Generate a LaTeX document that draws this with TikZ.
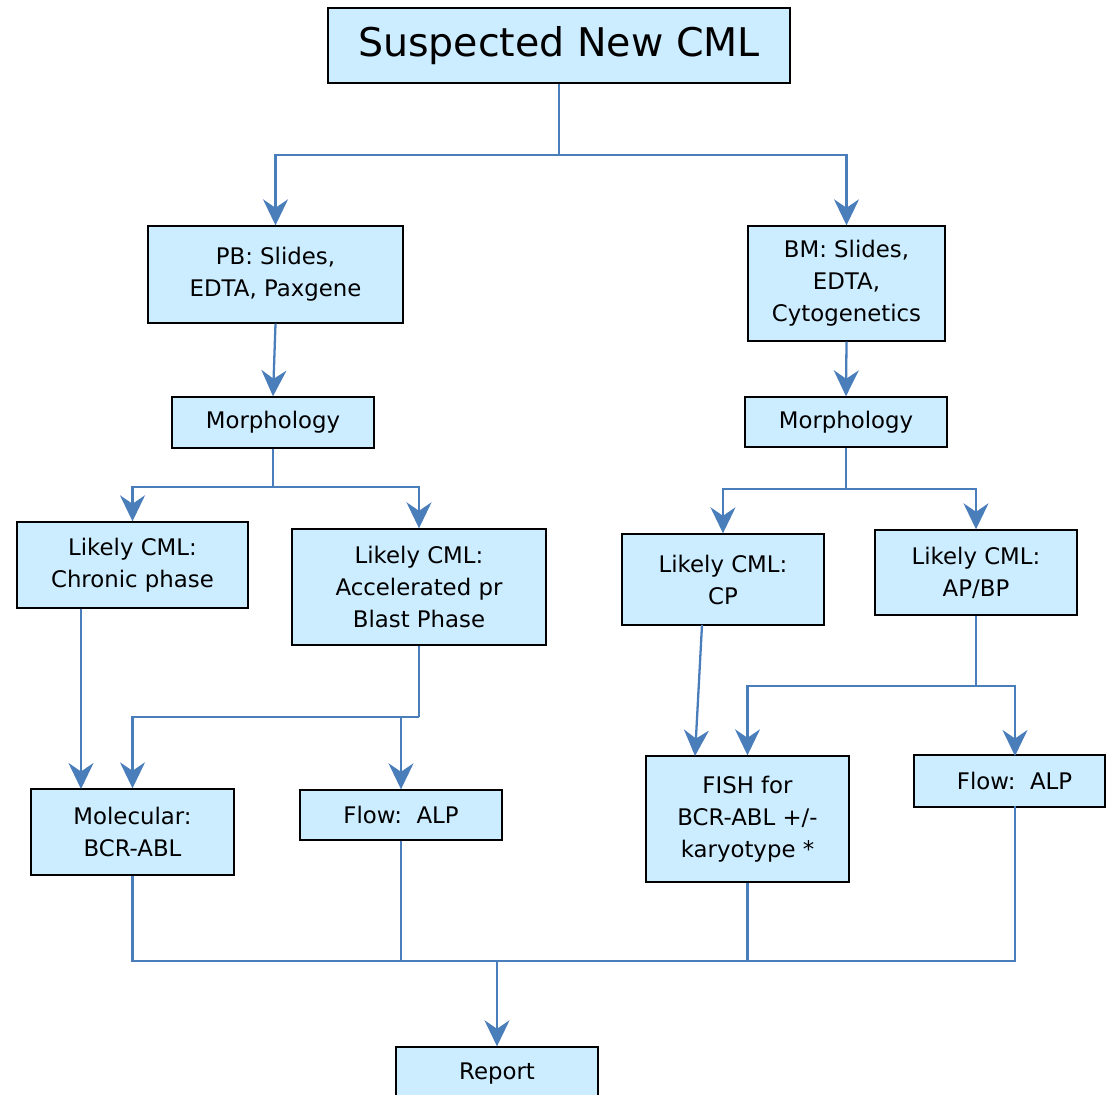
\documentclass[tikz,border=0pt]{standalone}
\usepackage{fontspec}
\setmainfont{DejaVu Sans}
\usetikzlibrary{arrows.meta,positioning,calc}
\definecolor{cmlfill}{RGB}{204,236,255}
\definecolor{cmlblue}{RGB}{74,126,187}

\begin{document}
\begin{tikzpicture}[x=0.02cm, y=-0.02cm,
    box/.style={draw=black, line width=0.8pt, fill=cmlfill, align=center, inner sep=0pt,
        font=\fontsize{13}{18.2}\selectfont},
    link/.style={draw=cmlblue, line width=1.3pt},
    arr/.style={link, -{Stealth[length=0.52cm, width=0.5cm, inset=0.17cm]}}]
    \clip (0,0) rectangle (1106,1095);

    % Top
    \node[box, minimum width=9.24cm, minimum height=1.5cm, font=\fontsize{22.5}{27}\selectfont] (title) at (559,45.5) {Suspected New CML};

    % Samples
    \node[box, minimum width=5.1cm, minimum height=1.94cm] (pb) at (275.5,274.5) {PB: Slides,\\EDTA, Paxgene};
    \node[box, minimum width=3.94cm, minimum height=2.3cm] (bm) at (846.5,283.5) {BM: Slides,\\EDTA,\\Cytogenetics};

    % Morphology
    \node[box, minimum width=4.04cm, minimum height=1.02cm] (morphL) at (273,422.5) {Morphology};
    \node[box, minimum width=4.04cm, minimum height=1.0cm] (morphR) at (846,422) {Morphology};

    % Likely CML
    \node[box, minimum width=4.62cm, minimum height=1.72cm] (chronic) at (132.5,565) {Likely CML:\\Chronic phase};
    \node[box, minimum width=5.08cm, minimum height=2.32cm] (accel) at (419,587) {Likely CML:\\Accelerated pr\\Blast Phase};
    \node[box, minimum width=4.04cm, minimum height=1.82cm] (cp) at (723,579.5) {Likely CML:\\CP};
    \node[box, minimum width=4.04cm, minimum height=1.7cm] (apbp) at (976,572.5) {Likely CML:\\AP/BP};

    % Tests
    \node[box, minimum width=4.06cm, minimum height=1.72cm] (molec) at (132.5,832) {Molecular:\\BCR-ABL};
    \node[box, minimum width=4.04cm, minimum height=1.0cm] (flowL) at (401,815) {Flow:\ \ ALP};
    \node[box, minimum width=4.06cm, minimum height=2.52cm] (fish) at (747.5,819) {FISH for\\BCR-ABL +/-\\karyotype *};
    \node[box, minimum width=3.82cm, minimum height=1.04cm] (flowR) at (1009.5,781) {\hspace{0.2cm}Flow:\ \ ALP};

    % Report
    \node[box, minimum width=4.04cm, minimum height=1.08cm] (report) at (497,1074) {Report};

    % Split points
    \coordinate (splitT) at (559,155);
    \coordinate (splitL) at (273,487);
    \coordinate (splitR) at (846,489);
    \coordinate (splitA) at (419,717);
    \coordinate (splitB) at (976,686);
    \coordinate (merge) at (497,961);
    \coordinate (molecin) at (81,789);
    \coordinate (cpout) at (702,625);
    \coordinate (fishin) at (695,756);
    \coordinate (flowRin) at (1015,756);
    \coordinate (flowRout) at (1015,806);

    % Top level
    \draw[link] (title.south) -- (splitT);
    \draw[arr] (splitT) -| (pb.north);
    \draw[arr] (splitT) -| (bm.north);
    \draw[arr] (pb.south) -- (morphL.north);
    \draw[arr] (bm.south) -- (morphR.north);

    % Left branch
    \draw[link] (morphL.south) -- (splitL);
    \draw[arr] (splitL) -| (chronic.north);
    \draw[arr] (splitL) -| (accel.north);
    \draw[arr] (chronic.south -| molecin) -- (molecin);
    \draw[link] (accel.south) -- (splitA);
    \draw[arr] (splitA) -| (molec.north);
    \draw[arr] (splitA) -| (flowL.north);

    % Right branch
    \draw[link] (morphR.south) -- (splitR);
    \draw[arr] (splitR) -| (cp.north);
    \draw[arr] (splitR) -| (apbp.north);
    \draw[arr] (cpout) -- (fishin);
    \draw[link] (apbp.south) -- (splitB);
    \draw[arr] (splitB) -| (fish.north);
    \draw[arr] (splitB) -| (flowRin);

    % To report
    \draw[link] (molec.south) |- (merge);
    \draw[link] (flowL.south) |- (merge);
    \draw[link] (fish.south) |- (merge);
    \draw[link] (flowRout) |- (merge);
    \draw[arr] (merge) -- (report.north);
\end{tikzpicture}
\end{document}
